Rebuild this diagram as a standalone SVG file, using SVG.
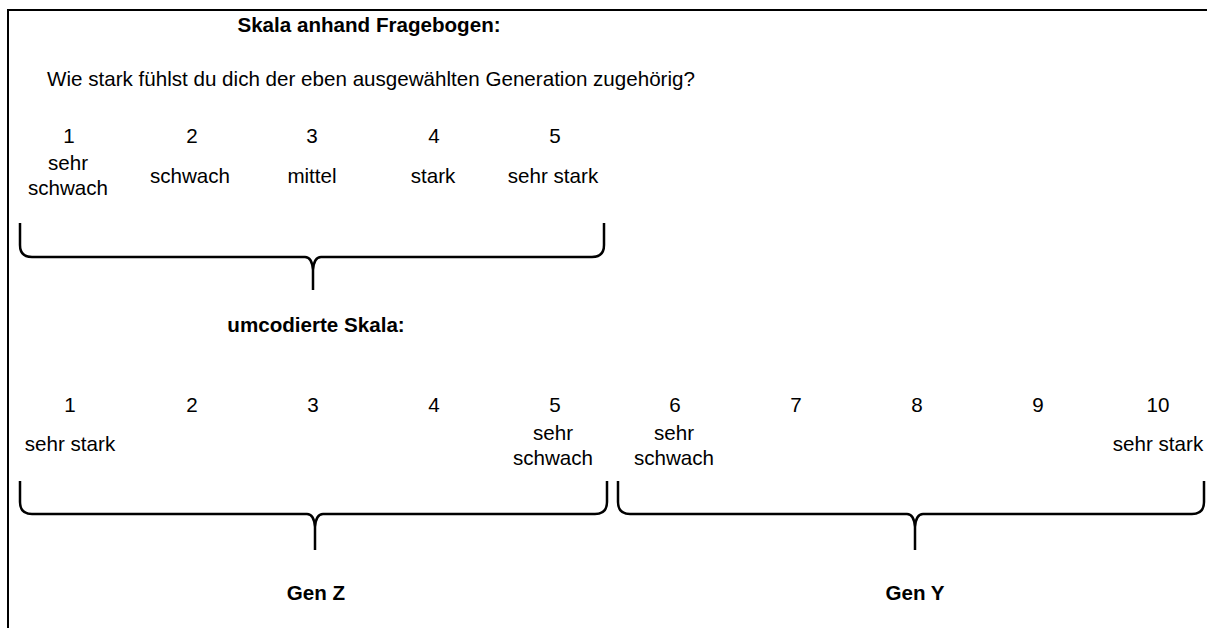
<svg xmlns="http://www.w3.org/2000/svg" width="1207" height="628" viewBox="0 0 1207 628">
  <style>
    text { font-family: "Liberation Sans", Arial, sans-serif; font-size: 20.6px; fill: #000; text-anchor: middle; }
    .b { font-weight: bold; }
    .q { text-anchor: start; }
    .frame { fill: none; stroke: #000; stroke-width: 2; }
    .brace { fill: none; stroke: #000; stroke-width: 2.5; stroke-linejoin: round; }
  </style>
  <rect width="1207" height="628" fill="#fff"/>
  <!-- open frame: top and left edges -->
  <path class="frame" d="M8,628 V10 H1207"/>

  <g id="questionnaire-scale">
    <text class="b" x="369" y="32">Skala anhand Fragebogen:</text>
    <text class="q" x="47" y="86">Wie stark fühlst du dich der eben ausgewählten Generation zugehörig?</text>
    <text x="69" y="143">1</text>
    <text x="192" y="143">2</text>
    <text x="312" y="143">3</text>
    <text x="434" y="143">4</text>
    <text x="555" y="143">5</text>
    <text x="68" y="170">sehr</text>
    <text x="68" y="195">schwach</text>
    <text x="190" y="183">schwach</text>
    <text x="312" y="183">mittel</text>
    <text x="433" y="183">stark</text>
    <text x="553" y="183">sehr stark</text>
  </g>

  <g id="recoded-scale">
    <text class="b" x="316" y="332">umcodierte Skala:</text>
    <text x="70" y="412">1</text>
    <text x="192" y="412">2</text>
    <text x="313" y="412">3</text>
    <text x="434" y="412">4</text>
    <text x="555" y="412">5</text>
    <text x="675" y="412">6</text>
    <text x="796" y="412">7</text>
    <text x="917" y="412">8</text>
    <text x="1038" y="412">9</text>
    <text x="1158" y="412">10</text>
    <text x="70" y="451">sehr stark</text>
    <text x="553" y="440">sehr</text>
    <text x="553" y="465">schwach</text>
    <text x="674" y="440">sehr</text>
    <text x="674" y="465">schwach</text>
    <text x="1158" y="451">sehr stark</text>
  </g>

  <g id="gen-z">
    <text class="b" x="316" y="600">Gen Z</text>
  </g>
  <g id="gen-y">
    <text class="b" x="915" y="600">Gen Y</text>
  </g>

  <!-- underbraces -->
  <g id="braces">
    <path class="brace" d="M20,223 V245 Q20,257 32,257 H305 Q312,257 313,270 V290 M313,270 Q314,257 321,257 H592 Q604,257 604,245 V223"/>
    <path class="brace" d="M20,481 V502 Q20,514 32,514 H307 Q314,514 315,527 V550 M315,527 Q316,514 323,514 H595 Q607,514 607,502 V481"/>
    <path class="brace" d="M618,481 V502 Q618,514 630,514 H907 Q914,514 915,527 V550 M915,527 Q916,514 923,514 H1192 Q1204,514 1204,502 V481"/>
  </g>
</svg>
